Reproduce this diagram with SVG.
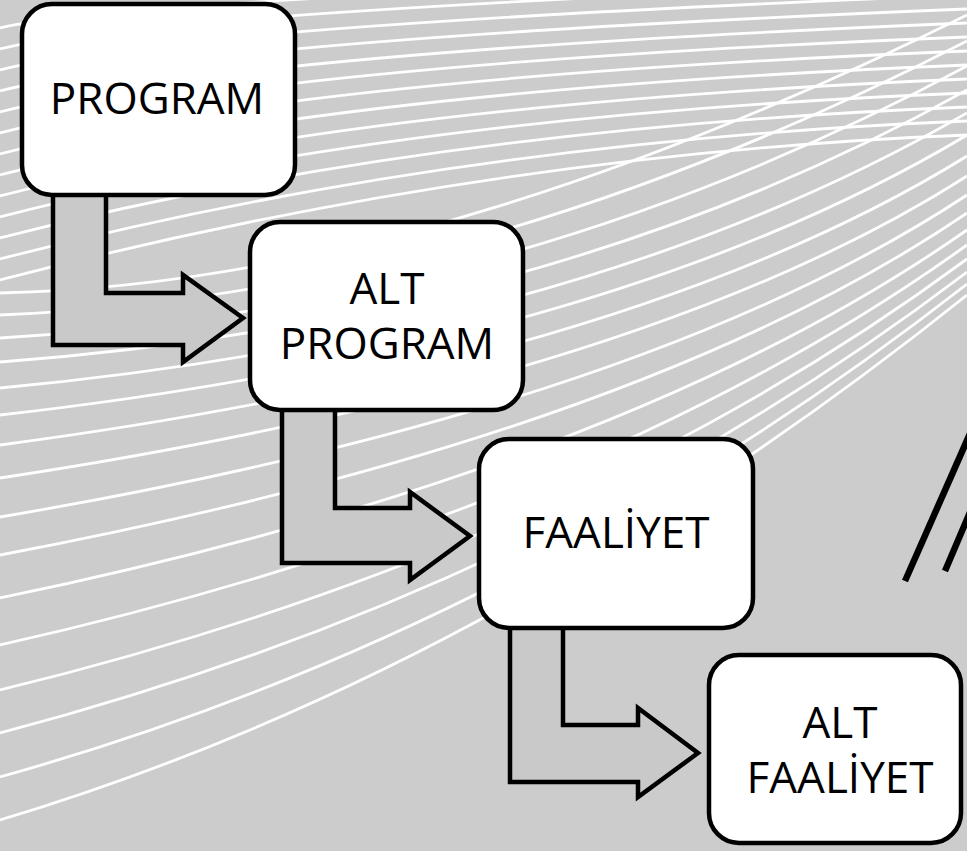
<svg xmlns="http://www.w3.org/2000/svg" width="967" height="851" viewBox="0 0 967 851">
  <style>
    .bgline { fill: none; stroke: #ffffff; stroke-width: 2.8; }
    .box { fill: #ffffff; stroke: #000000; stroke-width: 4.5; }
    .arrow { fill: #c9c9c9; stroke: #000000; stroke-width: 4.5; stroke-linejoin: miter; }
    .label { font-family: "Open Sans", "Liberation Sans", sans-serif; font-size: 44px; fill: #000000; text-anchor: middle; }
    .slash { stroke: #000000; stroke-width: 6.5; stroke-linecap: butt; }
  </style>
  <rect x="0" y="0" width="967" height="851" fill="#cccccc"/>
  <g id="background-lines">
    <path class="bgline" d="M0,280 Q483,154 967,135"/>
    <path class="bgline" d="M0,259 Q451,142 967,121"/>
    <path class="bgline" d="M0,238 Q419,129 967,107"/>
    <path class="bgline" d="M0,217 Q388,116 967,93"/>
    <path class="bgline" d="M0,196 Q356,104 967,79"/>
    <path class="bgline" d="M0,175 Q324,91 967,65"/>
    <path class="bgline" d="M0,154 Q292,78 967,51"/>
    <path class="bgline" d="M0,133 Q260,65 967,37"/>
    <path class="bgline" d="M0,112 Q229,53 967,23"/>
    <path class="bgline" d="M0,91 Q197,40 967,9"/>
    <path class="bgline" d="M0,70 Q165,27 967,-5"/>
    <path class="bgline" d="M0,49 Q133,14 967,-19"/>
    <path class="bgline" d="M0,28 Q101,2 967,-33"/>
    <path class="bgline" d="M0,820 Q497,671 967,295"/>
    <path class="bgline" d="M0,777 Q524,630 967,284"/>
    <path class="bgline" d="M0,733 Q551,588 967,272"/>
    <path class="bgline" d="M0,690 Q574,550 967,259"/>
    <path class="bgline" d="M0,645 Q598,510 967,245"/>
    <path class="bgline" d="M0,598 Q627,468 967,230"/>
    <path class="bgline" d="M0,555 Q642,434 967,213"/>
    <path class="bgline" d="M0,517 Q644,408 967,195"/>
    <path class="bgline" d="M0,478 Q648,380 967,176"/>
    <path class="bgline" d="M0,445 Q636,361 967,156"/>
    <path class="bgline" d="M0,415 Q616,345 967,135"/>
    <path class="bgline" d="M0,388 Q590,332 967,113"/>
    <path class="bgline" d="M0,362 Q557,320 967,90"/>
    <path class="bgline" d="M0,338 Q518,309 967,66"/>
    <path class="bgline" d="M0,315 Q476,296 967,41"/>
    <path class="bgline" d="M0,293 Q428,284 967,15"/>
  </g>
  <g id="connectors">
    <polygon class="arrow" points="53,185 53,345 183,345 183,362 243,318 183,275 183,293 106,293 106,185"/>
    <polygon class="arrow" points="282,400 282,563 410,563 410,580 470,536 410,492 410,508 335,508 335,400"/>
    <polygon class="arrow" points="510,618 510,782 638,782 638,797 698,753 638,708 638,725 563,725 563,618"/>
  </g>
  <g id="node-program">
    <rect class="box" x="22" y="4" width="273" height="191" rx="30" ry="30"/>
    <text class="label" x="157" y="114">PROGRAM</text>
  </g>
  <g id="node-alt-program">
    <rect class="box" x="250" y="222" width="273" height="188" rx="30" ry="30"/>
    <text class="label" x="387" y="304">ALT</text>
    <text class="label" x="387" y="359">PROGRAM</text>
  </g>
  <g id="node-faaliyet">
    <rect class="box" x="479" y="439" width="274" height="189" rx="30" ry="30"/>
    <text class="label" x="616" y="548">FAALİYET</text>
  </g>
  <g id="node-alt-faaliyet">
    <rect class="box" x="709" y="655" width="252" height="188" rx="30" ry="30"/>
    <text class="label" x="840" y="738">ALT</text>
    <text class="label" x="840" y="793">FAALİYET</text>
  </g>
  <g id="decoration">
    <line class="slash" x1="905" y1="581" x2="976" y2="420"/>
    <line class="slash" x1="945" y1="571" x2="976" y2="498"/>
  </g>
</svg>
